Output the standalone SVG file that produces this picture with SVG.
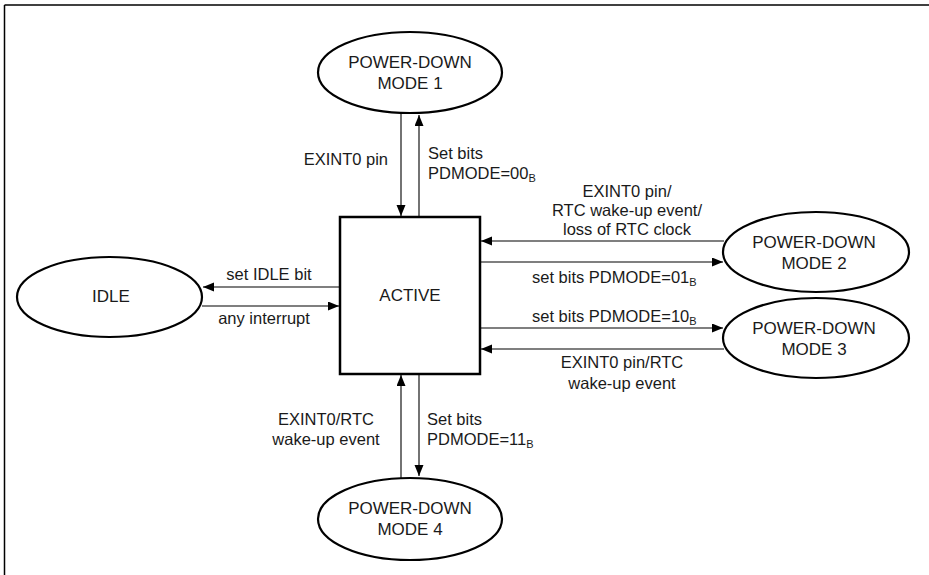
<svg xmlns="http://www.w3.org/2000/svg" width="929" height="575" viewBox="0 0 929 575">
<style>
.node{fill:#fff;stroke:#000;stroke-width:2.2}
.box{fill:#fff;stroke:#000;stroke-width:2.5}
.t{font-family:"Liberation Sans",Arial,sans-serif;font-size:16.5px;fill:#1a1a1a}
.n{font-size:17px}
.c{text-anchor:middle}
.e{text-anchor:end}
.sub{font-size:11px}
.conn line{stroke:#000;stroke-width:1.1;fill:none}
</style>
<defs>
<marker id="ah" markerUnits="userSpaceOnUse" markerWidth="12" markerHeight="10" refX="11" refY="4.5" orient="auto">
<path d="M0,0 L11,4.5 L0,9 z" fill="#000"/>
</marker>
</defs>
<rect width="929" height="575" fill="#fff"/>
<g id="frame" stroke="#000" stroke-width="1.5" fill="none">
<line x1="4.5" y1="5" x2="929" y2="5"/>
<line x1="4.5" y1="5" x2="4.5" y2="575"/>
</g>
<g class="conn" id="connectors">
<line x1="401" y1="114" x2="401" y2="216" marker-end="url(#ah)"/>
<line x1="419" y1="217" x2="419" y2="115" marker-end="url(#ah)"/>
<line x1="340" y1="287" x2="203" y2="287" marker-end="url(#ah)"/>
<line x1="202" y1="306" x2="339" y2="306" marker-end="url(#ah)"/>
<line x1="724" y1="241" x2="481" y2="241" marker-end="url(#ah)"/>
<line x1="480" y1="262" x2="723" y2="262" marker-end="url(#ah)"/>
<line x1="480" y1="328" x2="723" y2="328" marker-end="url(#ah)"/>
<line x1="724" y1="349" x2="481" y2="349" marker-end="url(#ah)"/>
<line x1="401" y1="478" x2="401" y2="375" marker-end="url(#ah)"/>
<line x1="419" y1="374" x2="419" y2="476" marker-end="url(#ah)"/>
</g>
<g id="active">
<rect class="box" x="340" y="217" width="140" height="157"/>
<text class="t n c" x="410" y="301">ACTIVE</text>
</g>
<g id="pd1">
<ellipse class="node" cx="410" cy="72.5" rx="92" ry="40.5"/>
<text class="t n c" x="410" y="68">POWER-DOWN</text>
<text class="t n c" x="410" y="89">MODE 1</text>
</g>
<g id="pd2">
<ellipse class="node" cx="816" cy="252" rx="93" ry="40"/>
<text class="t n c" x="814" y="248">POWER-DOWN</text>
<text class="t n c" x="814" y="269">MODE 2</text>
</g>
<g id="pd3">
<ellipse class="node" cx="816" cy="338" rx="93" ry="40"/>
<text class="t n c" x="814" y="334">POWER-DOWN</text>
<text class="t n c" x="814" y="355">MODE 3</text>
</g>
<g id="pd4">
<ellipse class="node" cx="410" cy="519" rx="92" ry="41"/>
<text class="t n c" x="410" y="514">POWER-DOWN</text>
<text class="t n c" x="410" y="535">MODE 4</text>
</g>
<g id="idle">
<ellipse class="node" cx="109.5" cy="297" rx="92.5" ry="40"/>
<text class="t n c" x="111" y="302">IDLE</text>
</g>
<g id="labels">
<text class="t e" x="388" y="165">EXINT0 pin</text>
<text class="t" x="428" y="159">Set bits</text>
<text class="t" x="428" y="179">PDMODE=00<tspan class="sub" dy="3">B</tspan></text>
<text class="t c" x="269" y="280">set IDLE bit</text>
<text class="t c" x="264" y="324">any interrupt</text>
<text class="t c" x="627" y="197">EXINT0 pin/</text>
<text class="t c" x="627" y="216">RTC wake-up event/</text>
<text class="t c" x="627" y="235">loss of RTC clock</text>
<text class="t" x="532" y="283">set bits PDMODE=01<tspan class="sub" dy="3">B</tspan></text>
<text class="t" x="532" y="322">set bits PDMODE=10<tspan class="sub" dy="3">B</tspan></text>
<text class="t c" x="622" y="368">EXINT0 pin/RTC</text>
<text class="t c" x="622" y="389">wake-up event</text>
<text class="t c" x="326" y="425">EXINT0/RTC</text>
<text class="t c" x="326" y="445">wake-up event</text>
<text class="t" x="427" y="425">Set bits</text>
<text class="t" x="427" y="445">PDMODE=11<tspan class="sub" dy="3">B</tspan></text>
</g>
</svg>
